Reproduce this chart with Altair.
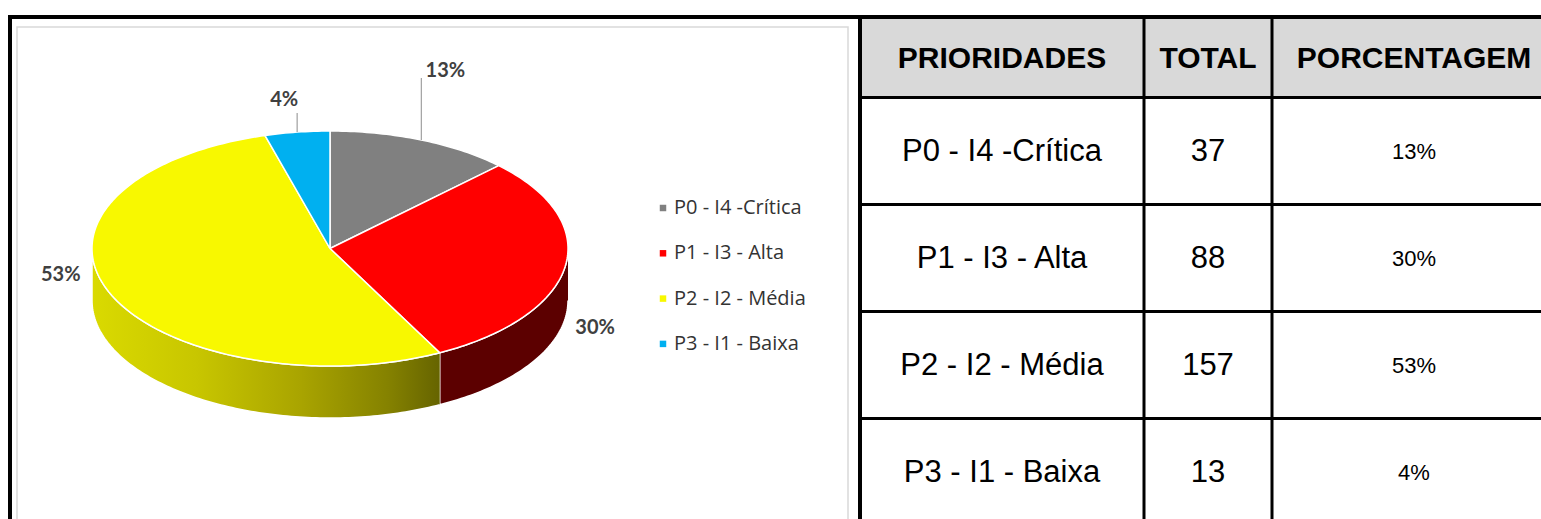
import altair as alt
import numpy as np
import pandas as pd

W, H = 1541, 519

# ---------------- data ----------------
categories = ["P0 - I4 -Crítica", "P1 - I3 - Alta", "P2 - I2 - Média", "P3 - I1 - Baixa"]
totals = [37, 88, 157, 13]
percent_labels = ["13%", "30%", "53%", "4%"]
header_labels = ["PRIORIDADES", "TOTAL", "PORCENTAGEM"]

# ---------------- styles / layout ----------------
slice_colors = ["#808080", "#ff0000", "#f8f800", "#00b0f0"]
side_fills = {
    "P1 - I3 - Alta": "#5c0000",
    "P2 - I2 - Média": {
        "gradient": "linear", "x1": 0, "x2": 1, "y1": 0, "y2": 0,
        "stops": [
            {"offset": 0.0, "color": "#dada00"},
            {"offset": 0.3, "color": "#c8c600"},
            {"offset": 0.6, "color": "#a9a400"},
            {"offset": 0.85, "color": "#858200"},
            {"offset": 1.0, "color": "#666400"},
        ],
    },
}
CX, CY, RX, RY, DEPTH = 330.0, 248.5, 238.0, 117.5, 52.0
# label offsets from the rim point at each slice's mid angle, and leader lengths
label_offsets = [(24, -69), (30, 61), (-48, -17), (-13, -32)]
leader_len = [62, 0, 0, 19]

LEG_X, LEG_Y0, LEG_DY = 663, 208, 45.3
COLS = [860, 1144, 1272, 1556]
HEAD_TOP, HEAD_BOT, ROW_H = 19, 97.5, 107

xs = alt.Scale(domain=[0, W], nice=False, zero=False)
ys = alt.Scale(domain=[0, H], nice=False, zero=False, reverse=True)


def X(f):
    return alt.X(f"{f}:Q", scale=xs, axis=None)


def Y(f):
    return alt.Y(f"{f}:Q", scale=ys, axis=None)


def rim(theta_deg, dy=0.0):
    t = np.radians(theta_deg)
    return CX + RX * np.sin(t), CY - RY * np.cos(t) + dy


# ---------------- pie geometry from the totals ----------------
tot = float(sum(totals))
cum = np.concatenate([[0.0], np.cumsum(totals)]) / tot * 360.0

top_rows, side_rows, lab_rows, lead_rows = [], [], [], []
for i, cat in enumerate(categories):
    a0, a1 = cum[i], cum[i + 1]
    n = max(3, int(np.ceil(a1 - a0)) + 1)
    angs = np.linspace(a0, a1, n)
    pts = [(CX, CY)] + [rim(a) for a in angs] + [(CX, CY)]
    for k, (px, py) in enumerate(pts):
        top_rows.append({"cat": cat, "o": k, "x": px, "y": py})
    lo, hi = max(a0, 90.0), min(a1, 270.0)
    if hi > lo:
        sa = np.linspace(lo, hi, max(3, int(np.ceil(hi - lo)) + 1))
        spts = [rim(a) for a in sa] + [rim(a, DEPTH) for a in sa[::-1]]
        for k, (px, py) in enumerate(spts):
            side_rows.append({"cat": cat, "o": k, "x": px, "y": py})
    mid = (a0 + a1) / 2
    rx_, ry_ = rim(mid)
    dx, dy = label_offsets[i]
    lab_rows.append({"cat": cat, "x": rx_ + dx, "y": ry_ + dy, "t": percent_labels[i]})
    if leader_len[i] > 0:
        lead_rows.append({"x": rx_, "y": ry_, "y2": ry_ - leader_len[i]})

top_df = pd.DataFrame(top_rows)
side_df = pd.DataFrame(side_rows)
lab_df = pd.DataFrame(lab_rows)
lead_df = pd.DataFrame(lead_rows)

color_scale = alt.Scale(domain=categories, range=slice_colors)

layers = []

# chart area box
box_df = pd.DataFrame([{"x": 17, "x2": 848, "y": 27, "y2": H + 10}])
layers.append(
    alt.Chart(box_df).mark_rect(fill="white", stroke="#d9d9d9", strokeWidth=1.5)
    .encode(x=X("x"), x2="x2:Q", y=Y("y"), y2="y2:Q")
)

# side faces
for cat, fill in side_fills.items():
    layers.append(
        alt.Chart(side_df).transform_filter(alt.datum.cat == cat)
        .mark_line(fill=fill, stroke="white", strokeWidth=1.5, strokeJoin="round")
        .encode(x=X("x"), y=Y("y"), order="o:Q")
    )

# top faces
layers.append(
    alt.Chart(top_df).mark_line(stroke="white", strokeWidth=1.5, strokeJoin="round")
    .encode(x=X("x"), y=Y("y"), order="o:Q", detail="cat:N",
            fill=alt.Fill("cat:N", scale=color_scale, legend=None))
)

# leader lines + data labels
layers.append(
    alt.Chart(lead_df).mark_rule(color="#a6a6a6", strokeWidth=1.3)
    .encode(x=X("x"), y=Y("y"), y2="y2:Q")
)
layers.append(
    alt.Chart(lab_df).mark_text(font="Lato", fontWeight="bold", fontSize=20, color="#404040",
                                align="center", baseline="middle")
    .encode(x=X("x"), y=Y("y"), text="t:N")
)

# legend
leg_df = pd.DataFrame({"cat": categories})
leg_df["x"] = LEG_X
leg_df["tx"] = LEG_X + 11
leg_df["y"] = [LEG_Y0 + LEG_DY * i for i in range(len(categories))]
layers.append(
    alt.Chart(leg_df).mark_square(size=42, opacity=1)
    .encode(x=X("x"), y=Y("y"), fill=alt.Fill("cat:N", scale=color_scale, legend=None))
)
layers.append(
    alt.Chart(leg_df).mark_text(font="Open Sans", fontSize=20, color="#333333", align="left",
                                baseline="middle")
    .encode(x=X("tx"), y=Y("y"), text="cat:N")
)

# ---------------- table ----------------
head_bg = pd.DataFrame([{"x": COLS[0], "x2": W + 5, "y": HEAD_TOP, "y2": HEAD_BOT}])
layers.append(
    alt.Chart(head_bg).mark_rect(fill="#d9d9d9")
    .encode(x=X("x"), x2="x2:Q", y=Y("y"), y2="y2:Q")
)
col_c = [(COLS[j] + COLS[j + 1]) / 2 for j in range(3)]
head_df = pd.DataFrame({"t": header_labels, "x": col_c, "y": [(HEAD_TOP + HEAD_BOT) / 2 + 1] * 3})
layers.append(
    alt.Chart(head_df).mark_text(font="Liberation Sans", fontWeight="bold", fontSize=30,
                                 color="black", align="center", baseline="middle")
    .encode(x=X("x"), y=Y("y"), text="t:N")
)
body_df = pd.DataFrame({"cat": categories, "total": [str(v) for v in totals], "pct": percent_labels})
body_df["y"] = [HEAD_BOT + ROW_H * (i + 0.5) + 1 for i in range(len(categories))]
body_df["x0"], body_df["x1"], body_df["x2"] = col_c
layers.append(
    alt.Chart(body_df).mark_text(font="Liberation Sans", fontSize=31, color="black",
                                 align="center", baseline="middle")
    .encode(x=X("x0"), y=Y("y"), text="cat:N")
)
layers.append(
    alt.Chart(body_df).mark_text(font="Liberation Sans", fontSize=31, color="black",
                                 align="center", baseline="middle")
    .encode(x=X("x1"), y=Y("y"), text="total:N")
)
layers.append(
    alt.Chart(body_df).mark_text(font="Liberation Sans", fontSize=22, color="black",
                                 align="center", baseline="middle")
    .encode(x=X("x2"), y=Y("y"), text="pct:N")
)

# table grid lines
grid = []
for k in range(len(categories)):
    yy = HEAD_BOT + ROW_H * k
    grid.append({"x": COLS[0], "x2": W + 5, "y": yy, "y2": yy})
for cx in COLS[1:3]:
    grid.append({"x": cx, "x2": cx, "y": HEAD_TOP, "y2": H + 5})
layers.append(
    alt.Chart(pd.DataFrame(grid)).mark_rule(color="black", strokeWidth=3)
    .encode(x=X("x"), x2="x2:Q", y=Y("y"), y2="y2:Q")
)

# outer black frame lines
frame = [
    {"x": 8, "x2": W + 5, "y": 17, "y2": 17},
    {"x": 10, "x2": 10, "y": 15, "y2": H + 5},
    {"x": COLS[0], "x2": COLS[0], "y": 15, "y2": H + 5},
]
layers.append(
    alt.Chart(pd.DataFrame(frame)).mark_rule(color="black", strokeWidth=4)
    .encode(x=X("x"), x2="x2:Q", y=Y("y"), y2="y2:Q")
)

chart = (
    alt.layer(*layers)
    .properties(width=W, height=H, padding=0, autosize=alt.AutoSizeParams(type="none"),
                background="white")
    .configure_view(stroke=None)
)

chart.save("out.html", embed_options={"renderer": "svg", "actions": False})
